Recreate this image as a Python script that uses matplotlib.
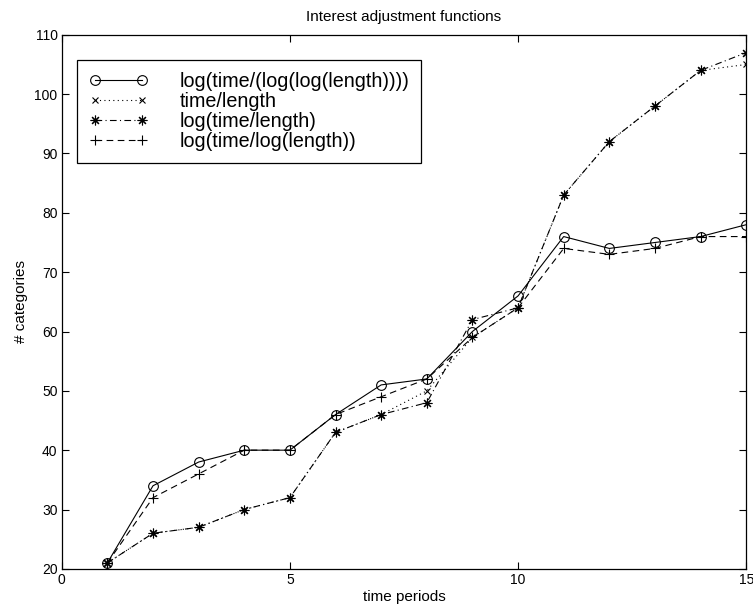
import matplotlib
matplotlib.use('Agg')
from matplotlib import pyplot as plt
import numpy as np

plt.rcParams['font.family'] = ['Liberation Sans', 'DejaVu Sans']

periods = np.arange(1, 16)

loglog_len = [21, 34, 38, 40, 40, 46, 51, 52, 60, 66, 76, 74, 75, 76, 78]
time_len = [21, 26, 27, 30, 32, 43, 46, 50, 59, 64, 83, 92, 98, 104, 105]
log_time_len = [21, 26, 27, 30, 32, 43, 46, 48, 62, 64, 83, 92, 98, 104, 107]
log_time_loglen = [21, 32, 36, 40, 40, 46, 49, 52, 59, 64, 74, 73, 74, 76, 76]

LABELS = ['log(time/(log(log(length))))', 'time/length',
          'log(time/length)', 'log(time/log(length))']

# matlab-like asterisk marker
ASTER = (8, 2, 0)

fig = plt.figure(figsize=(7.53, 6.11), dpi=100)
ax = fig.add_axes([0.082, 0.069, 0.909, 0.874])

ax.plot(periods, loglog_len, color='k', lw=0.8, ls='-', marker='o',
        ms=7, mfc='none', mew=0.8, label=LABELS[0])
ax.plot(periods, time_len, color='k', lw=0.8, ls=(0, (1, 3)), marker='x',
        ms=5, mew=0.8, label=LABELS[1])
ax.plot(periods, log_time_len, color='k', lw=0.8, ls=(0, (6, 3, 1, 3)), marker=ASTER,
        ms=7, mew=0.8, label=LABELS[2])
ax.plot(periods, log_time_loglen, color='k', lw=0.8, ls=(0, (6, 4)), marker='+',
        ms=7, mew=0.8, label=LABELS[3])

ax.set_xlim(0, 15)
ax.set_ylim(20, 110)
ax.set_xticks([0, 5, 10, 15])
ax.set_yticks(np.arange(20, 111, 10))
ax.tick_params(direction='in', top=True, right=True, length=5, width=0.8,
               labelsize=10, pad=3)
for s in ax.spines.values():
    s.set_linewidth(0.9)

ax.set_xlabel('time periods', fontsize=11, labelpad=2)
ax.set_ylabel('# categories', fontsize=11, labelpad=5)
ax.set_title('Interest adjustment functions', fontsize=11, pad=10)

leg = ax.legend(loc='upper left', bbox_to_anchor=(0.022, 0.953), borderaxespad=0,
                fontsize=14.2, numpoints=2, handlelength=3.0, handletextpad=1.6,
                labelspacing=0.05, borderpad=0.6, fancybox=False, framealpha=1,
                edgecolor='k')
leg.get_frame().set_linewidth(0.9)

fig.savefig('out.png', dpi=100)
